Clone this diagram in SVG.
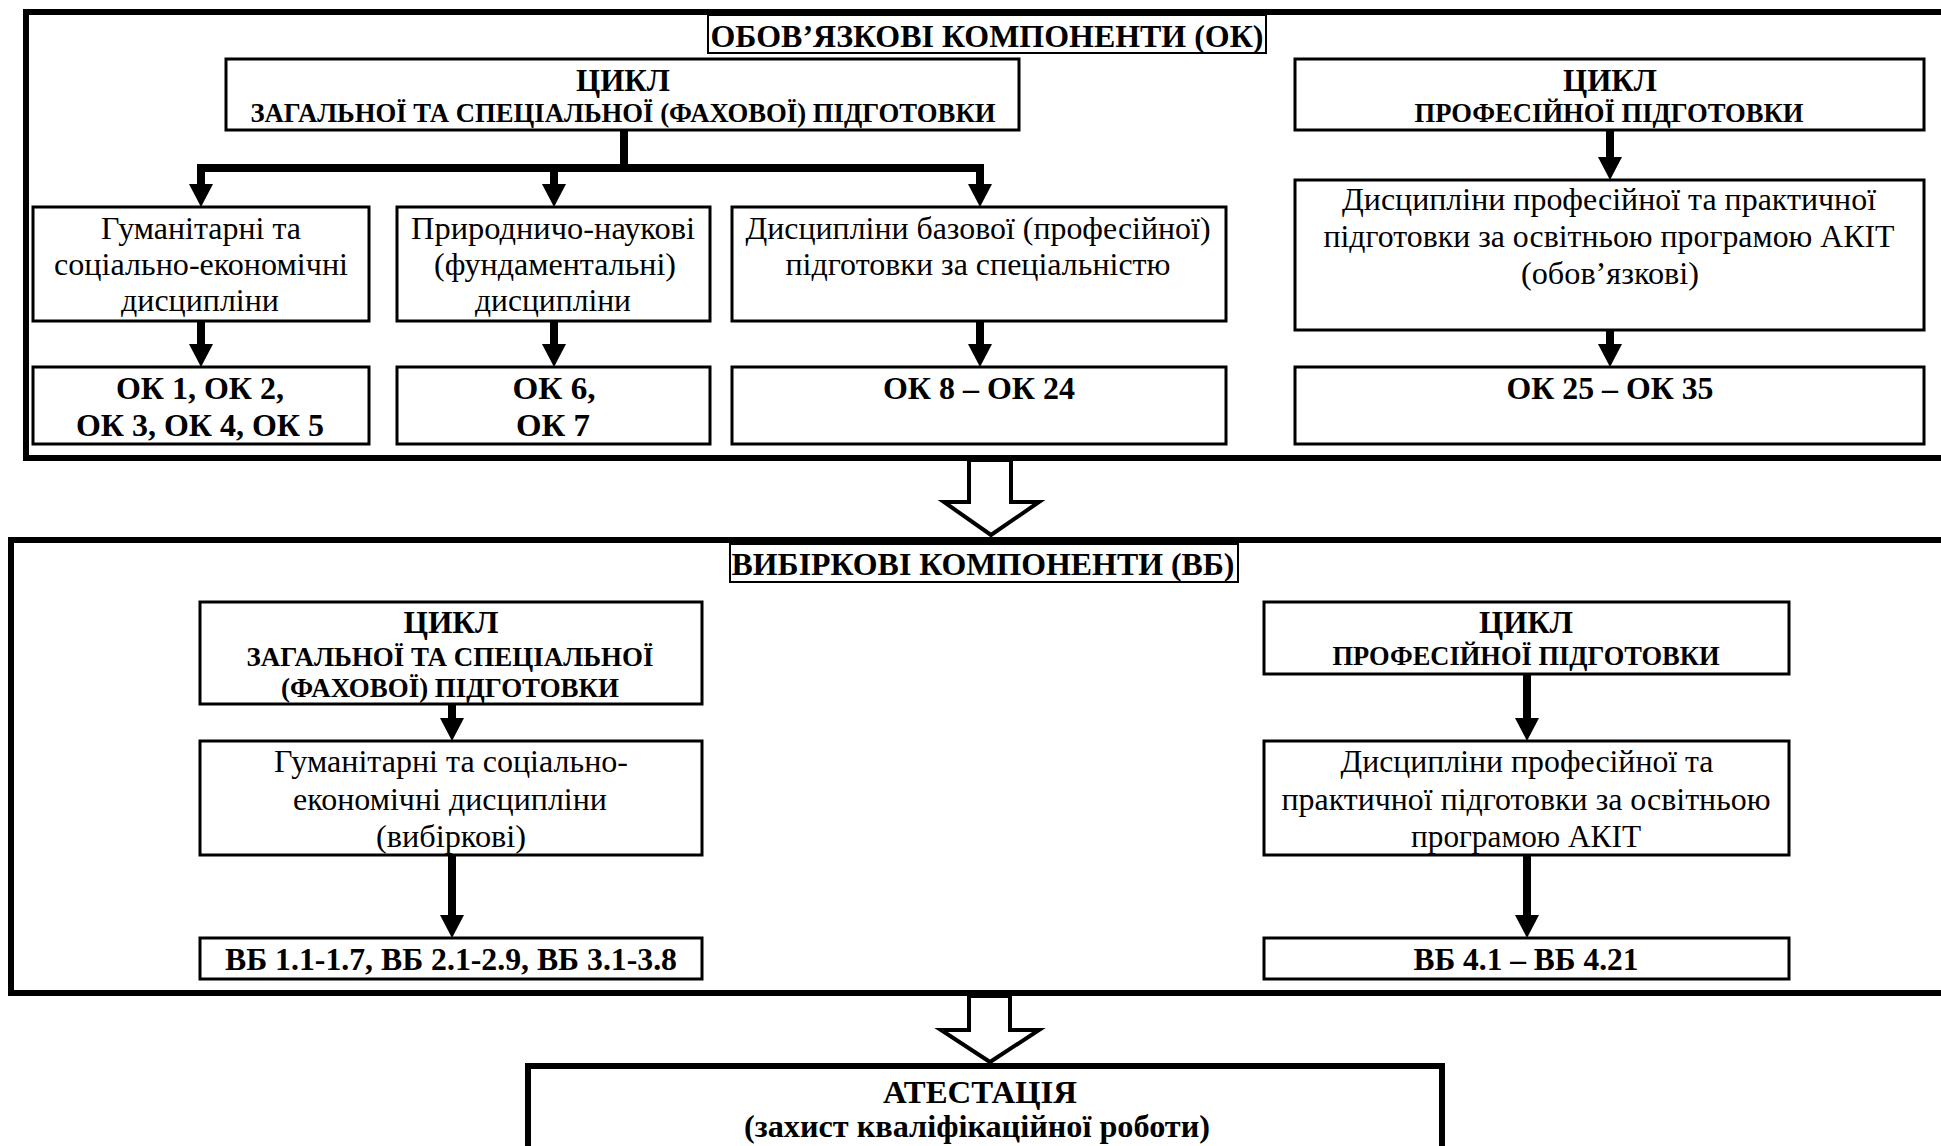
<svg xmlns="http://www.w3.org/2000/svg" width="1941" height="1146" viewBox="0 0 1941 1146">
<style>
text{font-family:"Liberation Serif","Times New Roman",serif;fill:#000;text-anchor:middle}
.r{font-size:32.5px}
.b{font-size:32px;font-weight:bold}
.t{font-size:32.2px;font-weight:bold}
.c{font-size:32px;font-weight:bold}
.s{font-size:26.6px;font-weight:bold}
.a{font-size:32px;font-weight:bold}
.frame{fill:none;stroke:#000;stroke-width:6}
.box{fill:#fff;stroke:#000;stroke-width:3}
.tbox{fill:#fff;stroke:#000;stroke-width:2}
.con{fill:none;stroke:#000;stroke-width:8}
.hollow{fill:#fff;stroke:#000;stroke-width:4;stroke-linejoin:miter}
</style>
<defs>
<marker id="ah" markerUnits="userSpaceOnUse" markerWidth="24" markerHeight="24" refX="0" refY="12" orient="auto" overflow="visible">
<path d="M0,0 L23,12 L0,24 Z" fill="#000"/>
</marker>
</defs>
<rect width="1941" height="1146" fill="#fff"/>

<g id="frame-ok"><rect class="frame" x="26" y="12" width="1960" height="446"/></g>
<g id="frame-vb"><rect class="frame" x="11" y="540" width="1980" height="453"/></g>

<g id="connectors">
<path class="con" d="M624,130 V168 M197,168 H984"/>
<path class="con" d="M201,168 V184" marker-end="url(#ah)"/>
<path class="con" d="M554,168 V184" marker-end="url(#ah)"/>
<path class="con" d="M980,168 V184" marker-end="url(#ah)"/>
<path class="con" d="M201,321 V344" marker-end="url(#ah)"/>
<path class="con" d="M554,321 V344" marker-end="url(#ah)"/>
<path class="con" d="M980,321 V344" marker-end="url(#ah)"/>
<path class="con" d="M1610,130 V157" marker-end="url(#ah)"/>
<path class="con" d="M1610,330 V344" marker-end="url(#ah)"/>
<path class="con" d="M452,704 V718" marker-end="url(#ah)"/>
<path class="con" d="M452,855 V915" marker-end="url(#ah)"/>
<path class="con" d="M1527,674 V718" marker-end="url(#ah)"/>
<path class="con" d="M1527,855 V915" marker-end="url(#ah)"/>
<polygon class="hollow" points="969,460 969,502 944,502 991,535 1039,502 1011,502 1011,460"/>
<polygon class="hollow" points="969,996 969,1030 941,1030 990,1062 1039,1030 1010,1030 1010,996"/>
</g>

<g id="title-ok"><rect class="tbox" x="708" y="15" width="558" height="38"/>
<text class="t" x="987" y="47" textLength="553" lengthAdjust="spacingAndGlyphs">ОБОВ’ЯЗКОВІ КОМПОНЕНТИ (ОК)</text></g>

<g id="ok-cycle-general"><rect class="box" x="226" y="59" width="793" height="71"/>
<text class="c" x="623" y="91" textLength="94" lengthAdjust="spacingAndGlyphs">ЦИКЛ</text>
<text class="s" x="623" y="122" textLength="745" lengthAdjust="spacingAndGlyphs">ЗАГАЛЬНОЇ ТА СПЕЦІАЛЬНОЇ (ФАХОВОЇ) ПІДГОТОВКИ</text></g>

<g id="ok-cycle-prof"><rect class="box" x="1295" y="59" width="629" height="71"/>
<text class="c" x="1610" y="91" textLength="94" lengthAdjust="spacingAndGlyphs">ЦИКЛ</text>
<text class="s" x="1609" y="122" textLength="389" lengthAdjust="spacingAndGlyphs">ПРОФЕСІЙНОЇ ПІДГОТОВКИ</text></g>

<g id="ok-hum"><rect class="box" x="33" y="207" width="336" height="114"/>
<text class="r" x="201" y="239" textLength="200" lengthAdjust="spacingAndGlyphs">Гуманітарні та</text>
<text class="r" x="201" y="275" textLength="294" lengthAdjust="spacingAndGlyphs">соціально-економічні</text>
<text class="r" x="200" y="311" textLength="158" lengthAdjust="spacingAndGlyphs">дисципліни</text></g>

<g id="ok-nat"><rect class="box" x="397" y="207" width="313" height="114"/>
<text class="r" x="553" y="239" textLength="284" lengthAdjust="spacingAndGlyphs">Природничо-наукові</text>
<text class="r" x="555" y="275" textLength="242" lengthAdjust="spacingAndGlyphs">(фундаментальні)</text>
<text class="r" x="553" y="311" textLength="156" lengthAdjust="spacingAndGlyphs">дисципліни</text></g>

<g id="ok-base"><rect class="box" x="732" y="207" width="494" height="114"/>
<text class="r" x="978" y="239" textLength="465" lengthAdjust="spacingAndGlyphs">Дисципліни базової (професійної)</text>
<text class="r" x="978" y="275" textLength="385" lengthAdjust="spacingAndGlyphs">підготовки за спеціальністю</text></g>

<g id="ok-prof"><rect class="box" x="1295" y="180" width="629" height="150"/>
<text class="r" x="1609" y="210" textLength="534" lengthAdjust="spacingAndGlyphs">Дисципліни професійної та практичної</text>
<text class="r" x="1609" y="247" textLength="571" lengthAdjust="spacingAndGlyphs">підготовки за освітньою програмою АКІТ</text>
<text class="r" x="1610" y="284" textLength="178" lengthAdjust="spacingAndGlyphs">(обов’язкові)</text></g>

<g id="ok-1-5"><rect class="box" x="33" y="367" width="336" height="77"/>
<text class="b" x="200" y="399" textLength="168" lengthAdjust="spacingAndGlyphs">ОК 1, ОК 2,</text>
<text class="b" x="200" y="436" textLength="248" lengthAdjust="spacingAndGlyphs">ОК 3, ОК 4, ОК 5</text></g>

<g id="ok-6-7"><rect class="box" x="397" y="367" width="313" height="77"/>
<text class="b" x="554" y="399" textLength="83" lengthAdjust="spacingAndGlyphs">ОК 6,</text>
<text class="b" x="553" y="436" textLength="74" lengthAdjust="spacingAndGlyphs">ОК 7</text></g>

<g id="ok-8-24"><rect class="box" x="732" y="367" width="494" height="77"/>
<text class="b" x="979" y="399" textLength="192" lengthAdjust="spacingAndGlyphs">ОК 8 – ОК 24</text></g>

<g id="ok-25-35"><rect class="box" x="1295" y="367" width="629" height="77"/>
<text class="b" x="1610" y="399" textLength="207" lengthAdjust="spacingAndGlyphs">ОК 25 – ОК 35</text></g>

<g id="title-vb"><rect class="tbox" x="730" y="544" width="508" height="38"/>
<text class="t" x="983" y="575" textLength="503" lengthAdjust="spacingAndGlyphs">ВИБІРКОВІ КОМПОНЕНТИ (ВБ)</text></g>

<g id="vb-cycle-general"><rect class="box" x="200" y="602" width="502" height="102"/>
<text class="c" x="451" y="633" textLength="95" lengthAdjust="spacingAndGlyphs">ЦИКЛ</text>
<text class="s" x="450" y="666" textLength="407" lengthAdjust="spacingAndGlyphs">ЗАГАЛЬНОЇ ТА СПЕЦІАЛЬНОЇ</text>
<text class="s" x="450" y="697" textLength="338" lengthAdjust="spacingAndGlyphs">(ФАХОВОЇ) ПІДГОТОВКИ</text></g>

<g id="vb-cycle-prof"><rect class="box" x="1264" y="602" width="525" height="72"/>
<text class="c" x="1526" y="633" textLength="94" lengthAdjust="spacingAndGlyphs">ЦИКЛ</text>
<text class="s" x="1526" y="665" textLength="387" lengthAdjust="spacingAndGlyphs">ПРОФЕСІЙНОЇ ПІДГОТОВКИ</text></g>

<g id="vb-hum"><rect class="box" x="200" y="741" width="502" height="114"/>
<text class="r" x="451" y="772" textLength="354" lengthAdjust="spacingAndGlyphs">Гуманітарні та соціально-</text>
<text class="r" x="450" y="810" textLength="314" lengthAdjust="spacingAndGlyphs">економічні дисципліни</text>
<text class="r" x="451" y="847" textLength="150" lengthAdjust="spacingAndGlyphs">(вибіркові)</text></g>

<g id="vb-prof"><rect class="box" x="1264" y="741" width="525" height="114"/>
<text class="r" x="1527" y="772" textLength="373" lengthAdjust="spacingAndGlyphs">Дисципліни професійної та</text>
<text class="r" x="1526" y="810" textLength="489" lengthAdjust="spacingAndGlyphs">практичної підготовки за освітньою</text>
<text class="r" x="1526" y="847" textLength="230" lengthAdjust="spacingAndGlyphs">програмою АКІТ</text></g>

<g id="vb-1-3"><rect class="box" x="200" y="938" width="502" height="41"/>
<text class="b" x="451" y="970" textLength="452" lengthAdjust="spacingAndGlyphs">ВБ 1.1-1.7, ВБ 2.1-2.9, ВБ 3.1-3.8</text></g>

<g id="vb-4"><rect class="box" x="1264" y="938" width="525" height="41"/>
<text class="b" x="1526" y="970" textLength="225" lengthAdjust="spacingAndGlyphs">ВБ 4.1 – ВБ 4.21</text></g>

<g id="attestation"><rect class="frame" x="528" y="1066" width="914" height="120" fill="#fff"/>
<text class="a" x="980" y="1103" textLength="194" lengthAdjust="spacingAndGlyphs">АТЕСТАЦІЯ</text>
<text class="a" x="977" y="1137" textLength="466" lengthAdjust="spacingAndGlyphs">(захист кваліфікаційної роботи)</text></g>
</svg>
